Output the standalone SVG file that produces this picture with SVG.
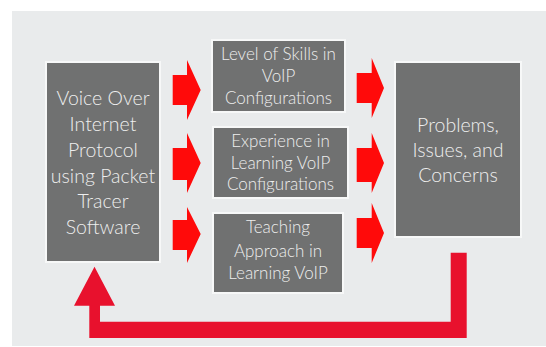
<svg xmlns="http://www.w3.org/2000/svg" width="546" height="347" viewBox="0 0 546 347">
  <defs>
    <style>
      .box { fill: #707171; stroke: #f7f8f8; stroke-width: 2; }
      .lbl { font-family: Lato, "Open Sans", "Liberation Sans", sans-serif; font-weight: 300; fill: #eeeeee; text-anchor: middle; }
      .big { font-size: 19.5px; }
      .mid { font-size: 17px; }
      .arr { fill: #ff0a0a; }
      .fb { fill: #e8112d; }
    </style>
  </defs>
  <rect x="0" y="0" width="546" height="347" fill="#ffffff"/>
  <rect x="12" y="11" width="534" height="335" fill="#e9ebec"/>

  <g id="connectors">
    <polygon class="arr" points="172.7,75 187,75 187,60 200.7,90 187,120 187,105 172.7,105"/>
    <polygon class="arr" points="172.7,148 187,148 187,133 200.7,163 187,193 187,180 172.7,180"/>
    <polygon class="arr" points="172.7,220 187,220 187,207 200.7,234 187,263 187,250 172.7,250"/>
    <polygon class="arr" points="356.7,73 371.7,73 371.7,58 384,88 371.7,118 371.7,103 356.7,103"/>
    <polygon class="arr" points="356.7,148 371.7,148 371.7,133 384,163 371.7,193 371.7,182 356.7,182"/>
    <polygon class="arr" points="356.7,218 371.7,218 371.7,203 384,233 371.7,263 371.7,248 356.7,248"/>
    <polygon class="fb" points="450.7,252.7 466.7,252.7 466.7,338 89.3,338 89.3,305.7 74,305.7 94.5,266.7 115,305.7 100,305.7 100,321.7 450.7,321.7"/>
  </g>

  <g id="voip">
    <rect class="box" x="46" y="62" width="114" height="200"/>
    <text class="lbl big" x="103" y="105">Voice Over</text>
    <text class="lbl big" x="103" y="131">Internet</text>
    <text class="lbl big" x="103" y="157">Protocol</text>
    <text class="lbl big" x="103" y="182.5">using Packet</text>
    <text class="lbl big" x="103" y="208">Tracer</text>
    <text class="lbl big" x="103" y="233.5">Software</text>
  </g>

  <g id="skills">
    <rect class="box" x="212" y="40" width="133" height="72"/>
    <text class="lbl mid" x="278.5" y="59.5">Level of Skills in</text>
    <text class="lbl mid" x="278.5" y="81.5">VoIP</text>
    <text class="lbl mid" x="278.5" y="103.5">Configurations</text>
  </g>

  <g id="experience">
    <rect class="box" x="213" y="127" width="135" height="71"/>
    <text class="lbl mid" x="280.5" y="146.5">Experience in</text>
    <text class="lbl mid" x="280.5" y="168.5">Learning VoIP</text>
    <text class="lbl mid" x="280.5" y="190">Configurations</text>
  </g>

  <g id="teaching">
    <rect class="box" x="213" y="213" width="130" height="80"/>
    <text class="lbl mid" x="278" y="233">Teaching</text>
    <text class="lbl mid" x="278" y="256.5">Approach in</text>
    <text class="lbl mid" x="278" y="278.5">Learning VoIP</text>
  </g>

  <g id="problems">
    <rect class="box" x="395" y="62" width="126" height="175"/>
    <text class="lbl big" x="458" y="131.5">Problems,</text>
    <text class="lbl big" x="458" y="157">Issues, and</text>
    <text class="lbl big" x="458" y="181.5">Concerns</text>
  </g>
</svg>
